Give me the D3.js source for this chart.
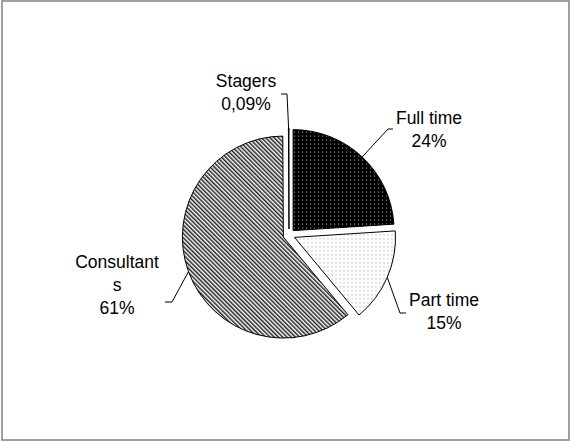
<!DOCTYPE html>
<html>
<head>
<meta charset="utf-8">
<script src="https://cdn.jsdelivr.net/npm/d3@7"></script>
<style>
  body { margin: 0; background: #fff; }
  text { font-family: Arial, "Liberation Sans", sans-serif; font-size: 17.5px; fill: #000; }
</style>
</head>
<body>
<div id="chart"></div>
<script>
// data
var categories = ["Full time", "Part time", "Consultants", "Stagers"];
var values = [24, 15, 61, 0.09];
var valueLabels = ["24%", "15%", "61%", "0,09%"];
var labelLines = [["Full time"], ["Part time"], ["Consultant", "s"], ["Stagers"]];

var width = 571, height = 442;
var cx = 289, cy = 235, radius = 101, explode = 6;

// label layout: elbow point, end of leader, text centre and first baseline
var labelLayout = [
  {elbow: [388, 129], end: [393, 129], tx: 429, ty: 124},
  {elbow: [400, 313], end: [406, 313], tx: 444, ty: 306},
  {elbow: [172, 302], end: [165, 302], tx: 117, ty: 268},
  {elbow: [287, 94], end: [281, 94], tx: 246, ty: 87}
];
var fills = ["url(#dotsDark)", "url(#dotsLight)", "url(#hatch)", "#fff"];

var svg = d3.select("#chart").append("svg")
  .attr("width", width)
  .attr("height", height);

var defs = svg.append("defs");

var p1 = defs.append("pattern").attr("id", "dotsDark")
  .attr("patternUnits", "userSpaceOnUse").attr("width", 4).attr("height", 4);
p1.append("rect").attr("width", 4).attr("height", 4).attr("fill", "#000");
p1.append("rect").attr("x", 1).attr("y", 1).attr("width", 1).attr("height", 1).attr("fill", "#bbb");

var p2 = defs.append("pattern").attr("id", "dotsLight")
  .attr("patternUnits", "userSpaceOnUse").attr("width", 4).attr("height", 4);
p2.append("rect").attr("width", 4).attr("height", 4).attr("fill", "#fff");
p2.append("rect").attr("x", 1).attr("y", 1).attr("width", 1).attr("height", 1).attr("fill", "#999");

var p3 = defs.append("pattern").attr("id", "hatch")
  .attr("patternUnits", "userSpaceOnUse").attr("width", 3).attr("height", 3)
  .attr("patternTransform", "rotate(-45)");
p3.append("rect").attr("width", 3).attr("height", 3).attr("fill", "#fff");
p3.append("rect").attr("width", 1.5).attr("height", 3).attr("fill", "#222");

// outer frame
svg.append("rect")
  .attr("x", 2).attr("y", 1)
  .attr("width", 567).attr("height", 439)
  .attr("fill", "none")
  .attr("stroke", "#808080")
  .attr("stroke-width", 1.5);

var pie = d3.pie().sort(null).value(function(d){ return d; });
var arcs = pie(values);

var arc = d3.arc().innerRadius(0).outerRadius(radius);
var rim = d3.arc().innerRadius(radius).outerRadius(radius);

function offset(d){
  var a = (d.startAngle + d.endAngle) / 2;
  return [explode * Math.sin(a), -explode * Math.cos(a)];
}

var g = svg.append("g").attr("transform", "translate(" + cx + "," + cy + ")");

g.selectAll("path.slice")
  .data(arcs)
  .enter().append("path")
  .attr("class", "slice")
  .attr("transform", function(d){
    var o = offset(d);
    return "translate(" + o[0] + "," + o[1] + ")";
  })
  .attr("d", arc)
  .attr("fill", function(d, i){ return fills[i]; })
  .attr("stroke", "#000")
  .attr("stroke-width", 1);

// leader lines
var line = d3.line();
_ = null;
arcs.forEach(function(d, i){
  var o = offset(d);
  var c = rim.centroid(d);
  var start = [cx + o[0] + c[0], cy + o[1] + c[1] + (i === 3 ? 2 : 0)];
  var L = labelLayout[i];
  svg.append("path")
    .attr("d", line([start, L.elbow, L.end]))
    .attr("fill", "none")
    .attr("stroke", "#000")
    .attr("stroke-width", 1);

  var lines = labelLines[i].concat([valueLabels[i]]);
  var t = svg.append("text")
    .attr("text-anchor", "middle");
  lines.forEach(function(s, j){
    t.append("tspan")
      .attr("x", L.tx)
      .attr("y", L.ty + j * 23)
      .text(s);
  });
});
</script>
</body>
</html>
